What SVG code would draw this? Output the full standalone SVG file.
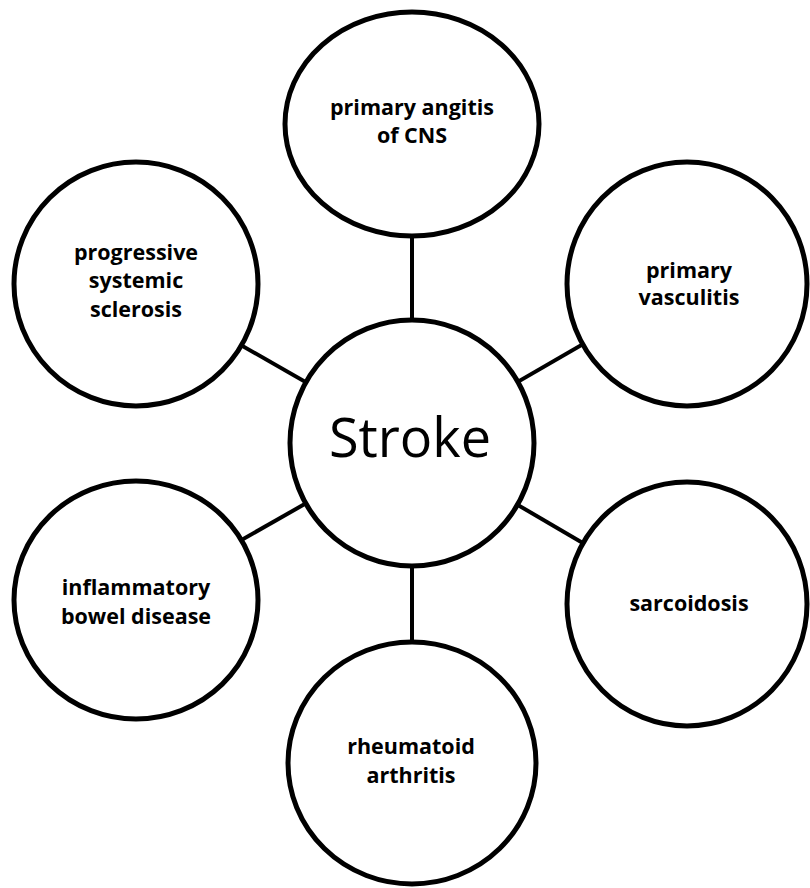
<svg xmlns="http://www.w3.org/2000/svg" width="810" height="888" viewBox="0 0 810 888">
  <style>
    .node { fill: #ffffff; stroke: #000000; stroke-width: 5; }
    .link { stroke: #000000; stroke-width: 4; fill: none; }
    .label { font-family: "Open Sans", "Liberation Sans", sans-serif; font-weight: 700; font-size: 21.5px; fill: #000000; text-anchor: middle; }
    .hub { font-family: "Open Sans", "Liberation Sans", sans-serif; font-size: 54px; fill: #000000; text-anchor: middle; }
  </style>
  <rect width="810" height="888" fill="#ffffff"/>

  <!-- spokes from the hub to each condition -->
  <g id="connectors">
    <line class="link" x1="412" y1="443" x2="412" y2="123"/>
    <line class="link" x1="412" y1="443" x2="687" y2="284"/>
    <line class="link" x1="412" y1="443" x2="687" y2="604"/>
    <line class="link" x1="412" y1="443" x2="412" y2="763"/>
    <line class="link" x1="412" y1="443" x2="136" y2="600"/>
    <line class="link" x1="412" y1="443" x2="136" y2="285"/>
  </g>

  <g id="stroke">
    <ellipse class="node" cx="412" cy="443" rx="122" ry="123"/>
    <text class="hub" x="410" y="457">Stroke</text>
  </g>

  <g id="primary-angitis">
    <ellipse class="node" cx="412" cy="124" rx="127" ry="112"/>
    <text class="label" x="412" y="115">primary angitis</text>
    <text class="label" x="412" y="143">of CNS</text>
  </g>

  <g id="primary-vasculitis">
    <ellipse class="node" cx="687" cy="284" rx="120" ry="122"/>
    <text class="label" x="689" y="278">primary</text>
    <text class="label" x="689" y="305">vasculitis</text>
  </g>

  <g id="sarcoidosis">
    <ellipse class="node" cx="687" cy="604" rx="120" ry="122"/>
    <text class="label" x="689" y="611">sarcoidosis</text>
  </g>

  <g id="rheumatoid-arthritis">
    <ellipse class="node" cx="412" cy="763" rx="124" ry="121"/>
    <text class="label" x="411" y="754">rheumatoid</text>
    <text class="label" x="411" y="783">arthritis</text>
  </g>

  <g id="inflammatory-bowel-disease">
    <ellipse class="node" cx="136" cy="600" rx="122" ry="119"/>
    <text class="label" x="136" y="595">inflammatory</text>
    <text class="label" x="136" y="624">bowel disease</text>
  </g>

  <g id="progressive-systemic-sclerosis">
    <ellipse class="node" cx="136" cy="284" rx="122" ry="122"/>
    <text class="label" x="136" y="260">progressive</text>
    <text class="label" x="136" y="288">systemic</text>
    <text class="label" x="136" y="317">sclerosis</text>
  </g>
</svg>
